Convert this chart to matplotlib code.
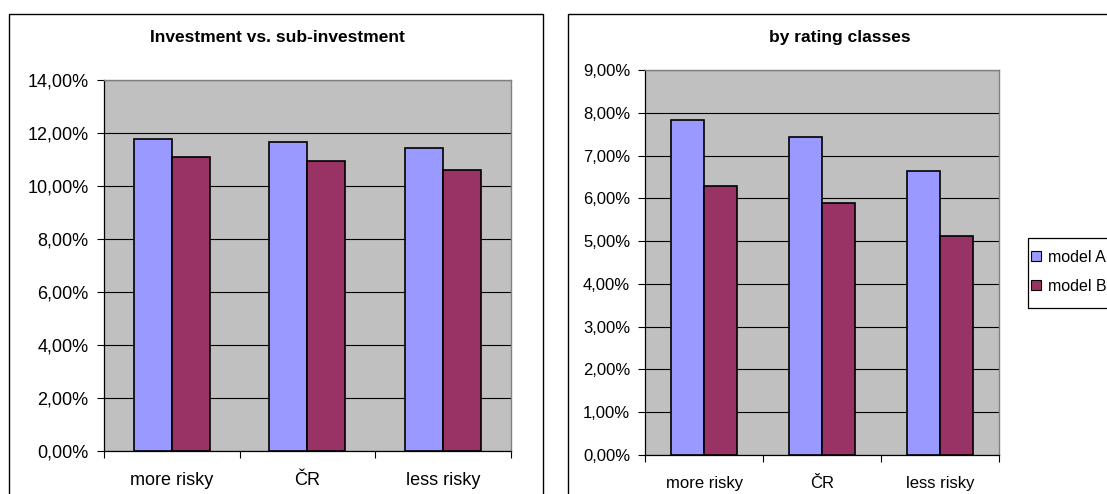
import matplotlib

matplotlib.use("Agg")

import matplotlib.pyplot as plt  # noqa: E402
from matplotlib.patches import Patch, Rectangle  # noqa: E402
from matplotlib.ticker import FixedLocator, FuncFormatter  # noqa: E402

CATEGORIES = ["more risky", "ČR", "less risky"]
SERIES = ["model A", "model B"]

# investment vs. sub-investment split (percent)
INV_A = [11.77, 11.65, 11.43]
INV_B = [11.09, 10.95, 10.61]
INV_TITLE = "Investment vs. sub-investment"
INV_TICKS = [0, 2, 4, 6, 8, 10, 12, 14]

# split by rating classes (percent)
RAT_A = [7.83, 7.44, 6.63]
RAT_B = [6.29, 5.90, 5.13]
RAT_TITLE = "by rating classes"
RAT_TICKS = [0, 1, 2, 3, 4, 5, 6, 7, 8, 9]

COL_A = "#9999FF"
COL_B = "#993366"
PLOT_BG = "#C0C0C0"
BAR_W = 0.28

plt.rcParams["font.family"] = ["Liberation Sans", "DejaVu Sans"]


def pct(v, _pos=None):
    return f"{v:.2f}%".replace(".", ",")


def panel(ax, a_vals, b_vals, ticks, fs):
    x = list(range(len(CATEGORIES)))
    ax.set_facecolor(PLOT_BG)
    ax.set_axisbelow(True)
    ax.bar([i - BAR_W / 2 for i in x], a_vals, BAR_W, color=COL_A,
           edgecolor="black", linewidth=1.2, zorder=3)
    ax.bar([i + BAR_W / 2 for i in x], b_vals, BAR_W, color=COL_B,
           edgecolor="black", linewidth=1.2, zorder=3)
    ax.set_xlim(-0.5, len(CATEGORIES) - 0.5)
    ax.set_ylim(ticks[0], ticks[-1])
    ax.yaxis.set_major_locator(FixedLocator(ticks))
    ax.yaxis.set_major_formatter(FuncFormatter(pct))
    ax.grid(axis="y", color="black", linewidth=0.8, zorder=0)
    ax.set_xticks(x)
    ax.set_xticklabels(CATEGORIES)
    ax.set_xticks([i - 0.5 for i in range(len(CATEGORIES) + 1)], minor=True)
    ax.tick_params(axis="x", which="major", length=0, pad=15, labelsize=fs)
    ax.tick_params(axis="x", which="minor", length=5, width=0.8,
                   direction="out", color="black")
    ax.tick_params(axis="y", length=5, width=0.8, direction="out",
                   pad=6, labelsize=fs)
    for side in ("top", "right"):
        ax.spines[side].set_color("#808080")
        ax.spines[side].set_linewidth(1.0)
    for side in ("left", "bottom"):
        ax.spines[side].set_color("black")
        ax.spines[side].set_linewidth(0.9)


fig = plt.figure(figsize=(11.07, 4.94), dpi=100)

# outer chart frames (right one runs past the page edge)
fig.patches.append(Rectangle((0.0078, -0.2), 0.4827, 1.1717, fill=False,
                             edgecolor="black", linewidth=1.0,
                             transform=fig.transFigure))
fig.patches.append(Rectangle((0.5128, -0.2), 0.6, 1.1717, fill=False,
                             edgecolor="black", linewidth=1.0,
                             transform=fig.transFigure))

ax_l = fig.add_axes([0.0939, 0.087, 0.3674, 0.751])
panel(ax_l, INV_A, INV_B, INV_TICKS, 13)

ax_r = fig.add_axes([0.5831, 0.0789, 0.3193, 0.7794])
panel(ax_r, RAT_A, RAT_B, RAT_TICKS, 12)

fig.text(0.251, 0.925, INV_TITLE, ha="center", va="center", fontsize=12.5,
         fontweight="bold")
fig.text(0.759, 0.925, RAT_TITLE, ha="center", va="center", fontsize=12.5,
         fontweight="bold")

# legend box, clipped by the right page edge
fig.patches.append(Rectangle((0.9286, 1 - 308 / 494), 0.2, 70 / 494,
                             fill=False, edgecolor="black", linewidth=0.9,
                             transform=fig.transFigure))
handles = [Patch(facecolor=COL_A, edgecolor="black", linewidth=0.8),
           Patch(facecolor=COL_B, edgecolor="black", linewidth=0.8)]
fig.legend(handles, SERIES, loc="upper left",
           bbox_to_anchor=(1031 / 1107, 1 - 250 / 494), frameon=False,
           fontsize=11.5, handlelength=0.6, handleheight=0.6,
           handletextpad=0.45, labelspacing=0.85, borderpad=0.0,
           borderaxespad=0.0)

fig.savefig("out.png", dpi=100)
plt.close(fig)
